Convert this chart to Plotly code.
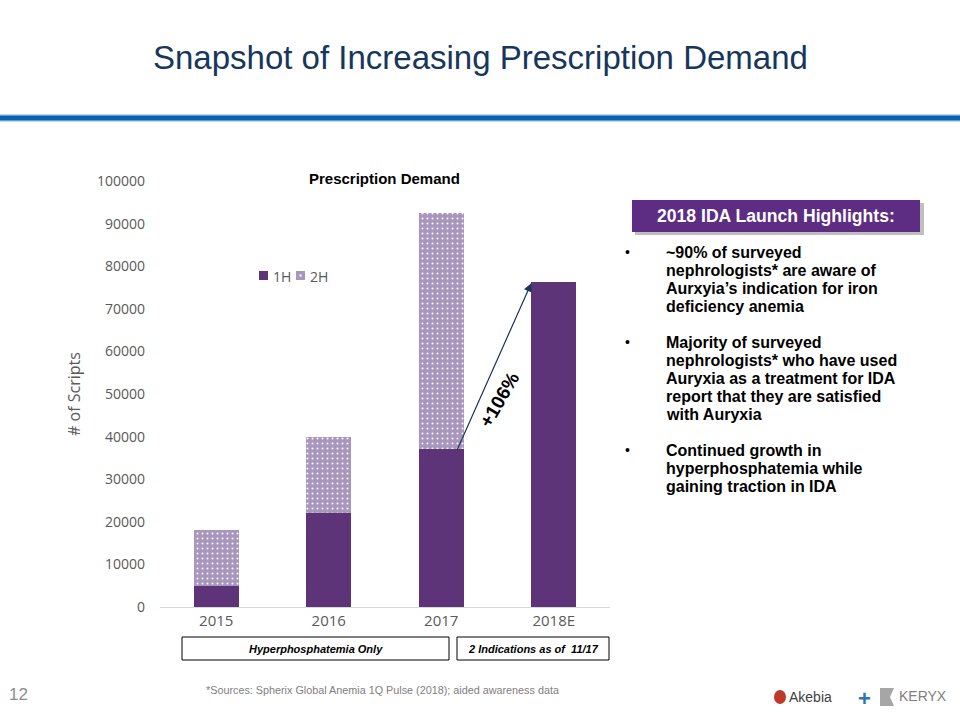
import plotly.graph_objects as go

categories = ["2015", "2016", "2017", "2018E"]
first_half = [5000, 22000, 37000, 76200]
second_half = [13000, 18000, 55500, 0]
y_ticks = [0, 10000, 20000, 30000, 40000, 50000, 60000, 70000, 80000, 90000, 100000]

C1 = "#5d3478"
C2 = "#a896bd"
NAVY = "#17365d"

# plot area in pixels
L, R, T, B = 160, 610, 181, 607
def px(x):
    return (x - L) / (R - L)
def py(y):
    return (B - y) / (B - T)

fig = go.Figure()
fig.add_bar(x=categories, y=first_half, name="1H", marker_color=C1,
            marker_line_width=0, width=0.40)
fig.add_bar(x=categories, y=second_half, name="2H", marker_color=C2,
            marker_line_width=0, width=0.40,
            marker_pattern=dict(shape=".", fgcolor="white", bgcolor=C2,
                                size=5, solidity=0.12, fillmode="replace"))

fig.update_layout(
    barmode="stack",
    width=960, height=720,
    margin=dict(l=L, r=960 - R, t=T, b=720 - B),
    plot_bgcolor="white", paper_bgcolor="white",
    font=dict(family="Liberation Sans, Arial", color="#595959"),
    showlegend=False,
)
fig.update_yaxes(range=[0, 100000], tickvals=y_ticks, tickformat="d", showgrid=False, zeroline=False,
                 showline=False, ticks="", ticklabelstandoff=14,
                 tickfont=dict(size=14, color="#595959", family="Open Sans"),
                 title=dict(text="# of Scripts", font=dict(size=16, color="#595959", family="Open Sans"),
                            standoff=12))
fig.update_xaxes(showgrid=False, showline=True, linecolor="#d9d9d9", linewidth=1, ticks="",
                 tickfont=dict(size=15, color="#595959", family="Open Sans"),
                 range=[-0.5, 3.5])

ann = []
shapes = []

# legend (drawn manually to match compact layout)
shapes.append(dict(type="rect", xref="paper", yref="paper", x0=px(259), x1=px(268),
                   y0=py(280), y1=py(271), fillcolor=C1, line_width=0))
shapes.append(dict(type="rect", xref="paper", yref="paper", x0=px(296), x1=px(305),
                   y0=py(280), y1=py(271), fillcolor=C2, line_width=0))
shapes.append(dict(type="rect", xref="paper", yref="paper", x0=px(299.5), x1=px(301.5),
                   y0=py(276.5), y1=py(274.5), fillcolor="white", line_width=0))
for lx, lt in [(271, "1H"), (308, "2H")]:
    ann.append(dict(text=lt, xref="paper", yref="paper", x=px(lx), y=py(276), xanchor="left",
                    yanchor="middle", showarrow=False,
                    font=dict(size=14, color="#595959", family="Open Sans")))

# Title
ann.append(dict(text="Snapshot of Increasing Prescription Demand", xref="paper", yref="paper",
                x=px(480), y=py(57), xanchor="center", yanchor="middle", showarrow=False,
                font=dict(size=33, color=NAVY, family="Liberation Sans, Arial")))
# blue rule
shapes.append(dict(type="rect", xref="paper", yref="paper", x0=px(0), x1=px(960),
                   y0=py(115.5), y1=py(120.5), fillcolor="#0664b1", line_width=0, layer="above"))
shapes.append(dict(type="rect", xref="paper", yref="paper", x0=px(0), x1=px(960),
                   y0=py(114), y1=py(122), fillcolor="rgba(6,100,177,0.25)", line_width=0, layer="below"))

# chart title
ann.append(dict(text="<b>Prescription Demand</b>", xref="paper", yref="paper",
                x=px(384), y=py(178), xanchor="center", yanchor="middle", showarrow=False,
                font=dict(size=15, color="black", family="Liberation Sans, Arial")))

# growth arrow
ann.append(dict(x=2.8, y=76000, ax=2.135, ay=36500, xref="x", yref="y", axref="x", ayref="y",
                text="", showarrow=True, arrowhead=2, arrowsize=1.4, arrowwidth=1.2,
                arrowcolor=NAVY))
ann.append(dict(x=2.52, y=48600, xref="x", yref="y", text="<b>+106%</b>", showarrow=False,
                textangle=-60, font=dict(size=19, color="black", family="Liberation Sans, Arial")))

# highlight box
shapes.append(dict(type="rect", xref="paper", yref="paper", x0=px(635), x1=px(924),
                   y0=py(235), y1=py(203), fillcolor="rgba(0,0,0,0.25)", line_width=0, layer="above"))
shapes.append(dict(type="rect", xref="paper", yref="paper", x0=px(632), x1=px(920),
                   y0=py(232), y1=py(200), fillcolor="#5c2d83", line_width=0, layer="above"))
ann.append(dict(text="<b>2018 IDA Launch Highlights:</b>", xref="paper", yref="paper",
                x=px(776), y=py(216), xanchor="center", yanchor="middle", showarrow=False,
                font=dict(size=17.6, color="white", family="Liberation Sans, Arial")))

bullets = [
    ["~90% of surveyed", "nephrologists* are aware of", "Aurxyia\u2019s indication for iron", "deficiency anemia"],
    ["Majority of surveyed", "nephrologists* who have used", "Auryxia as a treatment for IDA",
     "report that they are satisfied", "with Auryxia"],
    ["Continued growth in", "hyperphosphatemia while", "gaining traction in IDA"],
]
starts = [252, 342, 450]
for lines, y0 in zip(bullets, starts):
    ann.append(dict(text="\u2022", xref="paper", yref="paper", x=px(627), y=py(y0),
                    xanchor="center", yanchor="middle", showarrow=False,
                    font=dict(size=14, color="black", family="Liberation Sans, Arial")))
    for i, line in enumerate(lines):
        ann.append(dict(text="<b>" + line + "</b>", xref="paper", yref="paper",
                        x=px(664), y=py(y0 + 18 * i), xanchor="left", yanchor="middle",
                        showarrow=False,
                        font=dict(size=16, color="black", family="Liberation Sans, Arial")))

# bottom boxes
for x0, x1, label in [(182, 449, "Hyperphosphatemia Only"), (457, 609, "2 Indications as of  11/17")]:
    shapes.append(dict(type="rect", xref="paper", yref="paper", x0=px(x0), x1=px(x1),
                       y0=py(660), y1=py(637), line=dict(color="black", width=1),
                       fillcolor="white"))
    ann.append(dict(text="<b><i>" + label + "</i></b>", xref="paper", yref="paper",
                    x=px((x0 + x1) / 2), y=py(648.5), xanchor="center", yanchor="middle",
                    showarrow=False, font=dict(size=11, color="black", family="Liberation Sans, Arial")))

# footnote
ann.append(dict(text="*Sources: Spherix Global Anemia 1Q Pulse (2018); aided awareness data",
                xref="paper", yref="paper", x=px(382), y=py(690), xanchor="center", yanchor="middle",
                showarrow=False, font=dict(size=10.8, color="#808080", family="Liberation Sans, Arial")))
# page number
ann.append(dict(text="12", xref="paper", yref="paper", x=px(18), y=py(694), xanchor="center",
                yanchor="middle", showarrow=False,
                font=dict(size=17, color="#8c8c8c", family="Liberation Sans, Arial")))
# logos (text approximation)
ann.append(dict(text="Akebia", xref="paper", yref="paper", x=px(787), y=py(697), xanchor="left",
                yanchor="middle", showarrow=False,
                font=dict(size=14, color="#404040", family="Liberation Sans, Arial")))
ann.append(dict(text="<b>+</b>", xref="paper", yref="paper", x=px(864), y=py(698), xanchor="center",
                yanchor="middle", showarrow=False,
                font=dict(size=22, color="#2e75b6", family="Liberation Sans, Arial")))
ann.append(dict(text="KERYX", xref="paper", yref="paper", x=px(897), y=py(696), xanchor="left",
                yanchor="middle", showarrow=False,
                font=dict(size=14, color="#7f7f7f", family="Liberation Sans, Arial")))
shapes.append(dict(type="path", xref="paper", yref="paper",
                   path=f"M {px(880)},{py(688)} L {px(894)},{py(688)} L {px(890)},{py(697)} L {px(894)},{py(706)} L {px(880)},{py(706)} Z",
                   fillcolor="#a6a6a6", line_width=0))
shapes.append(dict(type="circle", xref="paper", yref="paper", x0=px(774), x1=px(786),
                   y0=py(704), y1=py(690), fillcolor="#c0392b", line_width=0))

fig.update_layout(annotations=ann, shapes=shapes)
fig.write_html("out.html", config={"displayModeBar": False},
               post_script="document.body.style.margin='0';")
